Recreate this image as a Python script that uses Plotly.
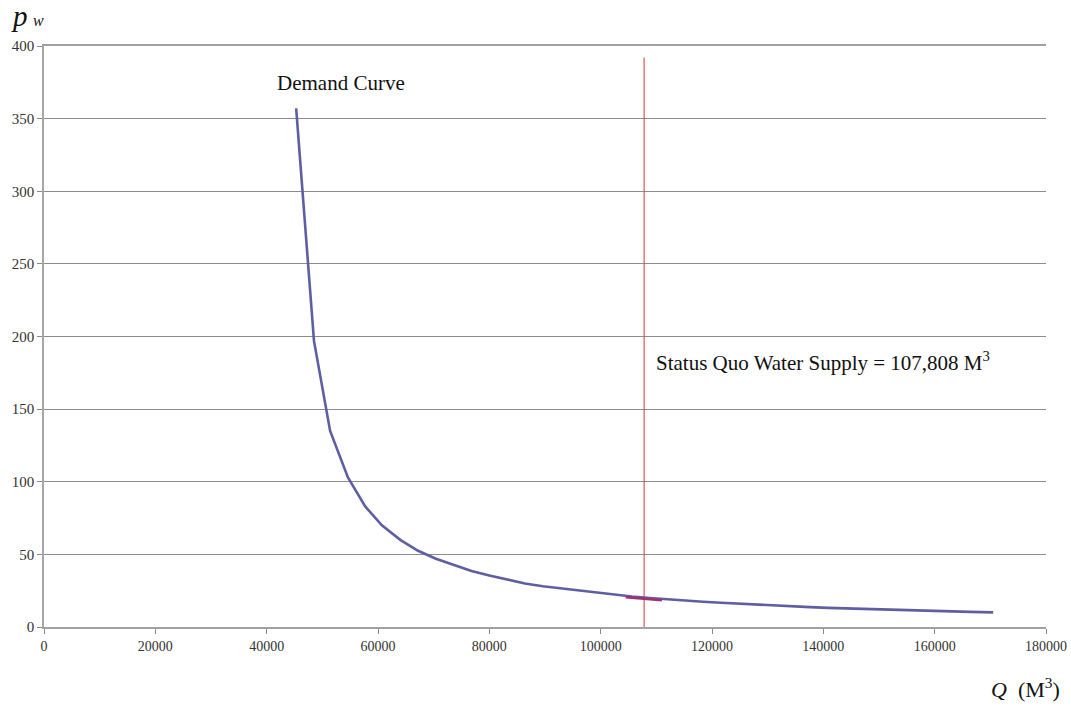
import plotly.graph_objects as go

# Demand curve points
q_demand = [45300, 48500, 51400, 54600, 57700, 60700, 64000, 67200, 70400, 73600,
            76800, 80000, 83200, 86400, 89600, 92800, 96000, 99200, 102400, 105600,
            108800, 112000, 115200, 118400, 121600, 124800, 128000, 131200, 134400, 137600,
            140800, 144000, 147200, 150400, 153600, 156800, 160000, 163200, 166400, 170500]
p_demand = [357, 197, 135, 103, 83, 70, 60, 52.5, 47, 42.5,
            38.5, 35.5, 32.5, 30, 28, 26.5, 25, 23.5, 22.3, 21,
            20, 19, 18.2, 17.4, 16.7, 16, 15.4, 14.8, 14.2, 13.7,
            13.2, 12.8, 12.4, 12, 11.6, 11.3, 11, 10.7, 10.4, 10.1]

# Short highlighted segment near the status quo
q_seg = [104500, 111000]
p_seg = [20.6, 18.4]

# Status quo supply line
q_status = [107808, 107808]
p_status = [0, 392]

x_ticks = [0, 20000, 40000, 60000, 80000, 100000, 120000, 140000, 160000, 180000]
y_ticks = [0, 50, 100, 150, 200, 250, 300, 350, 400]

SERIF = "Liberation Serif"

fig = go.Figure()
fig.add_trace(go.Scatter(x=q_status, y=p_status, mode="lines",
                         line=dict(color="#D9545A", width=1.2), showlegend=False))
fig.add_trace(go.Scatter(x=q_demand, y=p_demand, mode="lines",
                         line=dict(color="#5E5FA2", width=2.6), showlegend=False))
fig.add_trace(go.Scatter(x=q_seg, y=p_seg, mode="lines",
                         line=dict(color="#A3306E", width=2.6), showlegend=False))

W, H = 1071, 709
L, R, T, B = 44, 25, 46, 82

fig.update_layout(
    width=W, height=H,
    margin=dict(l=L, r=R, t=T, b=B, autoexpand=False),
    paper_bgcolor="white", plot_bgcolor="white",
    font=dict(family=SERIF, size=14, color="#222"),
    xaxis=dict(range=[0, 180000], tickvals=x_ticks, ticktext=[str(v) for v in x_ticks],
               showgrid=False, zeroline=False, showline=True, linecolor="#A0A0A0",
               linewidth=1.5, mirror=True, ticks="outside", ticklen=5, tickcolor="#888",
               automargin=False,
               tickfont=dict(family=SERIF, size=14, color="#333")),
    yaxis=dict(range=[0, 400], tickvals=y_ticks, ticktext=[str(v) for v in y_ticks],
               showgrid=True, gridcolor="#8C8C8C", gridwidth=1, zeroline=False,
               showline=True, linecolor="#A6A6A6", linewidth=1.5,
               ticks="outside", ticklen=5, tickcolor="#888",
               automargin=False,
               tickfont=dict(family=SERIF, size=15, color="#333")),
)

# annotation positions in page pixels (left edge, vertical middle)
annots = [
    dict(x=275, y=83, text="Demand Curve", size=21),
    dict(x=654, y=361, text="Status Quo Water Supply = 107,808 M<sup>3</sup>", size=21),
    dict(x=9, y=16, text="<i>p</i>", size=29),
    dict(x=31, y=20, text="<i>w</i>", size=16),
    dict(x=989, y=688, text="<i>Q</i>  (M<sup>3</sup>)", size=22),
]
pw, ph = W - L - R, H - T - B
for a in annots:
    fig.add_annotation(
        x=(a["x"] - L) / pw, y=(H - B - a["y"]) / ph,
        xref="paper", yref="paper", showarrow=False,
        text=a["text"], font=dict(family=SERIF, size=a["size"], color="#111"),
        xanchor="left", yanchor="middle",
    )

fig.write_html(
    "out.html",
    config={"displayModeBar": False},
    post_script="document.body.style.margin='0';document.body.style.overflow='hidden';",
)
